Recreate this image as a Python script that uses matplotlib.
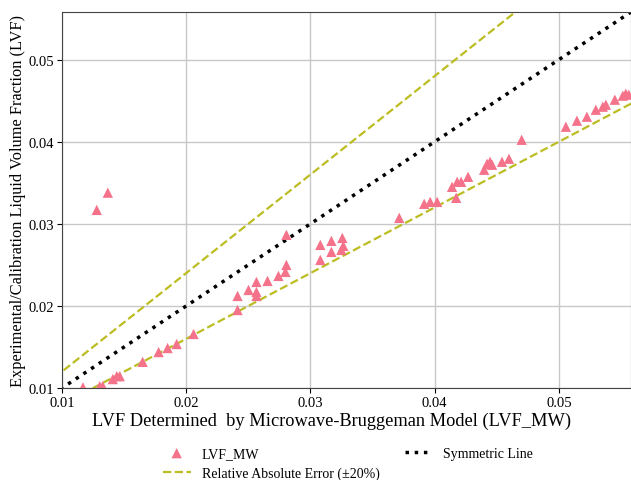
import matplotlib
matplotlib.use("Agg")
import matplotlib.pyplot as plt
import numpy as np

# LVF from microwave-Bruggeman model (x) vs experimental/calibration LVF (y)
lvf_mw = [0.0117, 0.01305, 0.01329, 0.0141, 0.01442, 0.01466, 0.0165, 0.01779,
          0.01851, 0.01924, 0.0206, 0.01281, 0.0137,
          0.02414, 0.02414, 0.02502, 0.02566, 0.02566, 0.02566, 0.02655, 0.02743,
          0.02799, 0.02807, 0.02807, 0.0308, 0.0308, 0.03169, 0.03169, 0.03249,
          0.03257, 0.03265,
          0.03715, 0.03916, 0.03964, 0.0402, 0.04173, 0.0414, 0.04181, 0.04213,
          0.04269, 0.04398, 0.04422, 0.04446, 0.04462, 0.04542, 0.04598, 0.047,
          0.05056, 0.05145, 0.05225, 0.05297, 0.05353, 0.05378, 0.0545, 0.05514,
          0.05538, 0.05562]
lvf_exp = [0.0101, 0.01024, 0.01024, 0.0111, 0.01146, 0.01146, 0.0132, 0.01439,
           0.01488, 0.01537, 0.01659, 0.0317, 0.0338,
           0.01951, 0.02122, 0.02195, 0.02122, 0.02171, 0.02293, 0.02305, 0.02366,
           0.02415, 0.0250, 0.02866, 0.02561, 0.02744, 0.02659, 0.02793, 0.02683,
           0.02829, 0.02732,
           0.03073, 0.03244, 0.03268, 0.03268, 0.03317, 0.03451, 0.03512, 0.03512,
           0.03573, 0.03659, 0.03732, 0.03756, 0.0372, 0.03756, 0.03793, 0.04024,
           0.04183, 0.04256, 0.04305, 0.0439, 0.04427, 0.04451, 0.04512, 0.04561,
           0.04585, 0.04573]
ref_x = [0.0, 0.06]
err_pct = 20
lim = (0.01, 0.0558)
ticks = [0.01, 0.02, 0.03, 0.04, 0.05]

plt.rcParams['font.family'] = ['Liberation Serif', 'DejaVu Serif']

fig = plt.figure(figsize=(6.31, 4.81), dpi=100)
ax = fig.add_axes([0.098, 0.191, 0.902, 0.782])

ax.grid(True, color='#c8c8c8', linewidth=1.0, zorder=0)
ax.set_axisbelow(True)

rx = np.array(ref_x)
sc = ax.scatter(lvf_mw, lvf_exp, marker='^', s=55, color='#f4728a',
                edgecolors='none', zorder=3, label='LVF_MW')
sym, = ax.plot(rx, rx, ':', color='black', lw=2.5, zorder=2, label='Symmetric Line')
up, = ax.plot(rx, rx * (1 + err_pct / 100), '--', color='#bcbd22', lw=1.6, zorder=2,
              label='Relative Absolute Error (\u00b120%)')
ax.plot(rx, rx * (1 - err_pct / 100), '--', color='#bcbd22', lw=1.6, zorder=2)

ax.set_xlim(*lim)
ax.set_ylim(*lim)
ax.set_xticks(ticks)
ax.set_yticks(ticks)
ax.tick_params(labelsize=10.5, direction='out', length=3.5, pad=2)
for s in ax.spines.values():
    s.set_color('#444444')

ax.set_xlabel('LVF Determined  by Microwave-Bruggeman Model (LVF_MW)', fontsize=13.2)
ax.xaxis.set_label_coords(0.473, -0.062)
ax.set_ylabel('Experimental/Calibration Liquid Volume Fraction (LVF)', fontsize=11.8, labelpad=2)

fig.legend(handles=[sc, up, sym], labels=[sc.get_label(), up.get_label(), sym.get_label()],
           ncol=2, loc='upper left', bbox_to_anchor=(0.258, 0.069),
           frameon=False, fontsize=10, handlelength=2.0, handletextpad=0.8,
           columnspacing=1.8, labelspacing=0.5, borderpad=0, borderaxespad=0)

fig.savefig('out.png', dpi=100)
